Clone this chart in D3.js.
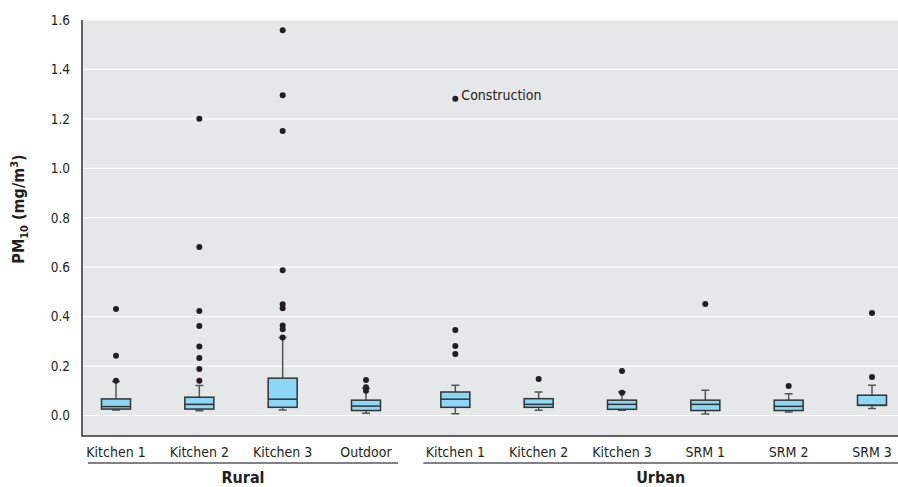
<!DOCTYPE html>
<html lang="en">
<head>
<meta charset="UTF-8">
<title>PM10 box plots</title>
<script src="https://cdn.jsdelivr.net/npm/d3@7"></script>
<style>
  body { margin: 0; background: #fff; }
  text { font-family: "Liberation Sans Narrow", "DejaVu Sans Condensed", "Roboto Condensed", "Arial Narrow", sans-serif; fill: #231f20; }
</style>
</head>
<body>
<svg></svg>
<script>
  const width = 898, height = 487
  const margin = {top: 20, right: 0, bottom: 51, left: 82}

  // data (mg/m3)
  const groups = ['Rural', 'Rural', 'Rural', 'Rural', 'Urban', 'Urban', 'Urban', 'Urban', 'Urban', 'Urban']
  const categories = ['Kitchen 1', 'Kitchen 2', 'Kitchen 3', 'Outdoor', 'Kitchen 1', 'Kitchen 2', 'Kitchen 3', 'SRM 1', 'SRM 2', 'SRM 3']
  const whiskerLow = [0.022, 0.019, 0.022, 0.009, 0.007, 0.021, 0.021, 0.006, 0.014, 0.028]
  const q1 = [0.026, 0.026, 0.033, 0.020, 0.033, 0.033, 0.025, 0.020, 0.020, 0.041]
  const median = [0.036, 0.045, 0.066, 0.038, 0.066, 0.045, 0.045, 0.045, 0.037, 0.041]
  const q3 = [0.067, 0.074, 0.151, 0.062, 0.095, 0.068, 0.062, 0.062, 0.062, 0.082]
  const whiskerHigh = [0.137, 0.121, 0.315, 0.110, 0.122, 0.095, 0.095, 0.102, 0.088, 0.122]
  const outliers = [
    [0.141, 0.242, 0.431],
    [0.141, 0.188, 0.233, 0.279, 0.362, 0.423, 0.682, 1.2],
    [0.315, 0.349, 0.364, 0.434, 0.450, 0.588, 1.151, 1.296, 1.559],
    [0.100, 0.114, 0.144],
    [0.249, 0.281, 0.346, 1.281],
    [0.148],
    [0.092, 0.180],
    [0.451],
    [0.119],
    [0.156, 0.415]
  ]
  const yTicks = [0, 0.2, 0.4, 0.6, 0.8, 1.0, 1.2, 1.4, 1.6]
  const annotation = {index: 4, value: 1.281, label: 'Construction'}

  const svg = d3.select('svg')
      .attr('width', width)
      .attr('height', height)

  const y = d3.scaleLinear()
      .domain([-0.083, 1.6])
      .range([height - margin.bottom, margin.top])

  // urban group sits a little further right than a plain step
  const x = d3.scaleLinear().domain([0, 9]).range([116, 866])
  const cx = i => x(i) + (groups[i] === 'Urban' ? 6 : 0)
  const boxW = 29

  svg.append('rect')
      .attr('x', margin.left).attr('y', margin.top)
      .attr('width', width - margin.left - margin.right)
      .attr('height', height - margin.bottom - margin.top)
      .attr('fill', '#e6e7e8')

  svg.append('g')
      .selectAll('line')
      .data(yTicks)
      .join('line')
      .attr('x1', margin.left).attr('x2', width)
      .attr('y1', d => y(d)).attr('y2', d => y(d))
      .attr('stroke', '#fff')
      .attr('stroke-width', 1.2)

  const yAxis = svg.append('g')
      .attr('transform', `translate(${margin.left},0)`)
      .call(d3.axisLeft(y).tickValues(yTicks).tickFormat(d3.format('.1f')).tickSize(0).tickPadding(12))
  yAxis.select('.domain').remove()
  yAxis.selectAll('text').style('font-size', '13.5px').attr('fill', '#231f20')

  // axis lines
  svg.append('path')
      .attr('d', `M${margin.left},${margin.top}V${height - margin.bottom}H${width}`)
      .attr('fill', 'none')
      .attr('stroke', '#333')
      .attr('stroke-width', 1.5)

  const idx = d3.range(categories.length)
  const g = svg.append('g')

  // whiskers
  g.selectAll('.whisker')
      .data(idx)
      .join('path')
      .attr('class', 'whisker')
      .attr('d', i => `M${cx(i)},${y(whiskerHigh[i])}V${y(q3[i])}M${cx(i)},${y(q1[i])}V${y(whiskerLow[i])}` +
          `M${cx(i) - 4},${y(whiskerHigh[i])}H${cx(i) + 4}M${cx(i) - 4},${y(whiskerLow[i])}H${cx(i) + 4}`)
      .attr('fill', 'none')
      .attr('stroke', '#555')
      .attr('stroke-width', 1.5)

  g.selectAll('.box')
      .data(idx)
      .join('rect')
      .attr('class', 'box')
      .attr('x', i => cx(i) - boxW / 2)
      .attr('y', i => y(q3[i]))
      .attr('width', boxW)
      .attr('height', i => y(q1[i]) - y(q3[i]))
      .attr('fill', '#8dd7f6')
      .attr('stroke', '#333')
      .attr('stroke-width', 1.5)

  g.selectAll('.median')
      .data(idx)
      .join('line')
      .attr('class', 'median')
      .attr('x1', i => cx(i) - boxW / 2).attr('x2', i => cx(i) + boxW / 2)
      .attr('y1', i => y(median[i])).attr('y2', i => y(median[i]))
      .attr('stroke', '#333')
      .attr('stroke-width', 1.5)

  const pts = idx.flatMap(i => outliers[i].map(v => ({i, v})))
  g.selectAll('.outlier')
      .data(pts)
      .join('circle')
      .attr('class', 'outlier')
      .attr('cx', d => cx(d.i))
      .attr('cy', d => y(d.v))
      .attr('r', 3)
      .attr('fill', '#231f20')

  svg.append('text')
      .attr('x', cx(annotation.index) + 6)
      .attr('y', y(annotation.value) + 1)
      .style('font-size', '14px')
      .text(annotation.label)

  // category labels
  svg.append('g')
      .selectAll('text')
      .data(idx)
      .join('text')
      .attr('x', i => cx(i))
      .attr('y', 457)
      .attr('text-anchor', 'middle')
      .style('font-size', '14px')
      .text(i => categories[i])

  // group brackets
  const groupNames = Array.from(new Set(groups))
  const span = name => {
    const ids = idx.filter(i => groups[i] === name)
    return [cx(ids[0]) - 32, cx(ids[ids.length - 1]) + 32]
  }
  const gg = svg.append('g')
  gg.selectAll('line')
      .data(groupNames)
      .join('line')
      .attr('x1', d => Math.max(span(d)[0], 88))
      .attr('x2', d => Math.min(span(d)[1], width))
      .attr('y1', 463).attr('y2', 463)
      .attr('stroke', '#808285')
      .attr('stroke-width', 2)
  gg.selectAll('text')
      .data(groupNames)
      .join('text')
      .attr('x', d => (Math.max(span(d)[0], 88) + Math.min(span(d)[1], width)) / 2)
      .attr('y', 483)
      .attr('text-anchor', 'middle')
      .style('font-size', '16px')
      .style('font-weight', 'bold')
      .text(d => d)

  // y title
  const title = svg.append('text')
      .attr('transform', 'translate(24,209) rotate(-90)')
      .attr('text-anchor', 'middle')
      .style('font-size', '16px')
      .style('font-weight', 'bold')
  title.append('tspan').text('PM')
  title.append('tspan').attr('dy', 4).style('font-size', '11px').text('10')
  title.append('tspan').attr('dy', -4).text(' (mg/m')
  title.append('tspan').attr('dy', -6).style('font-size', '11px').text('3')
  title.append('tspan').attr('dy', 6).text(')')
</script>
</body>
</html>
